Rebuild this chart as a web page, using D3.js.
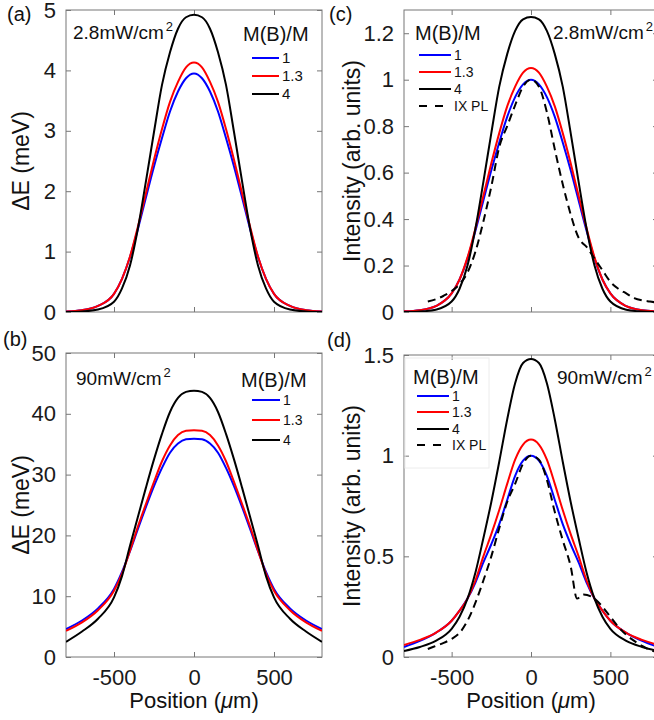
<!DOCTYPE html>
<html lang="en">
<head>
<meta charset="utf-8">
<script src="https://cdn.jsdelivr.net/npm/d3@7"></script>
<style>
    body { margin: 0; background: #fff; }
    svg { display: block; font-family: "Liberation Sans", Arial, Helvetica, sans-serif; }
    .frame { fill: none; stroke: #777; stroke-width: 1; }
    .axis path { display: none; }
    .axis line { stroke: #777; }
    .axis text { fill: #1a1a1a; font-size: 22px; font-family: "Liberation Sans", Arial, sans-serif; }
</style>
</head>
<body>
<svg id="fig" width="654" height="720"></svg>
<script>
// model curves, shared x positions (um)
const positions = [-800, -700, -600, -500, -450, -400, -350, -300, -250, -200, -150, -100, -50, 0,
    50, 100, 150, 200, 250, 300, 350, 400, 450, 500, 600, 700, 800];

// (a) 2.8 mW/cm2, Delta E (meV)
const aBlue = [0.01, 0.03, 0.10, 0.30, 0.55, 0.91, 1.38, 1.90, 2.41, 2.88, 3.32, 3.65, 3.87, 3.95,
    3.87, 3.65, 3.32, 2.88, 2.41, 1.90, 1.38, 0.91, 0.55, 0.30, 0.10, 0.03, 0.01];
const aRed = [0.01, 0.03, 0.10, 0.30, 0.55, 0.92, 1.42, 1.97, 2.52, 3.03, 3.48, 3.81, 4.05, 4.13,
    4.05, 3.81, 3.48, 3.03, 2.52, 1.97, 1.42, 0.92, 0.55, 0.30, 0.10, 0.03, 0.01];
const aBlack = [0.00, 0.008, 0.04, 0.17, 0.39, 0.77, 1.39, 2.17, 2.98, 3.76, 4.30, 4.69, 4.88, 4.92,
    4.88, 4.69, 4.30, 3.76, 2.98, 2.17, 1.39, 0.77, 0.39, 0.17, 0.04, 0.008, 0.00];

// (b) 90 mW/cm2, Delta E (meV)
const bBlue = [4.6, 6.0, 8.0, 11.2, 14.0, 17.4, 21.1, 24.7, 28.1, 31.1, 33.6, 35.1, 35.8, 35.9,
    35.8, 35.1, 33.6, 31.1, 28.1, 24.7, 21.1, 17.4, 14.0, 11.2, 8.0, 6.0, 4.6];
const bRed = [4.3, 5.7, 7.7, 10.9, 13.7, 17.5, 21.5, 25.2, 28.8, 32.2, 34.8, 36.5, 37.2, 37.3,
    37.2, 36.5, 34.8, 32.2, 28.8, 25.2, 21.5, 17.5, 13.7, 10.9, 7.7, 5.7, 4.3];
const bBlack = [2.5, 4.2, 6.3, 9.8, 13.3, 18.3, 23.1, 27.9, 32.5, 36.7, 40.3, 42.6, 43.6, 43.8,
    43.6, 42.6, 40.3, 36.7, 32.5, 27.9, 23.1, 18.3, 13.3, 9.8, 6.3, 4.2, 2.5];

// (c) 2.8 mW/cm2, intensity
const cBlue = [0.003, 0.008, 0.025, 0.08, 0.14, 0.23, 0.35, 0.48, 0.61, 0.73, 0.84, 0.925, 0.98, 1.0,
    0.98, 0.925, 0.84, 0.73, 0.61, 0.48, 0.35, 0.23, 0.14, 0.08, 0.025, 0.008, 0.003];
const cRed = [0.003, 0.008, 0.025, 0.08, 0.14, 0.235, 0.36, 0.50, 0.64, 0.77, 0.885, 0.97, 1.03, 1.05,
    1.03, 0.97, 0.885, 0.77, 0.64, 0.50, 0.36, 0.235, 0.14, 0.08, 0.025, 0.008, 0.003];
const cBlack = [0.0, 0.002, 0.01, 0.045, 0.10, 0.20, 0.36, 0.56, 0.77, 0.97, 1.11, 1.21, 1.26, 1.27,
    1.26, 1.21, 1.11, 0.97, 0.77, 0.56, 0.36, 0.20, 0.10, 0.045, 0.01, 0.002, 0.0];

// (d) 90 mW/cm2, intensity
const dBlue = [0.05, 0.08, 0.12, 0.18, 0.23, 0.29, 0.37, 0.47, 0.56, 0.66, 0.78, 0.90, 0.975, 1.0,
    0.975, 0.90, 0.78, 0.66, 0.56, 0.47, 0.37, 0.29, 0.23, 0.18, 0.12, 0.08, 0.05];
const dRed = [0.06, 0.085, 0.12, 0.18, 0.23, 0.29, 0.38, 0.50, 0.61, 0.73, 0.86, 0.98, 1.055, 1.08,
    1.055, 0.98, 0.86, 0.73, 0.61, 0.50, 0.38, 0.29, 0.23, 0.18, 0.12, 0.085, 0.06];
const dBlack = [0.03, 0.05, 0.08, 0.14, 0.20, 0.29, 0.42, 0.59, 0.77, 0.97, 1.18, 1.36, 1.46, 1.48,
    1.46, 1.36, 1.18, 0.97, 0.77, 0.59, 0.42, 0.29, 0.20, 0.14, 0.08, 0.05, 0.03];

// measured IX PL profiles
const plPosC = [-650, -600, -550, -500, -450, -400, -350, -300, -250, -200, -150, -100, -50, 0,
    50, 100, 150, 200, 250, 300, 320, 350, 400, 450, 500, 550, 600, 650, 700, 750, 800];
const plC = [0.045, 0.055, 0.07, 0.09, 0.12, 0.17, 0.26, 0.39, 0.54, 0.71, 0.80, 0.89, 0.97, 1.0,
    0.97, 0.86, 0.70, 0.55, 0.42, 0.32, 0.30, 0.28, 0.23, 0.18, 0.13, 0.10, 0.08, 0.06, 0.05, 0.045, 0.04];
const plPosD = [-650, -600, -550, -500, -450, -400, -350, -300, -250, -200, -150, -100, -50, 0,
    50, 100, 150, 200, 250, 290, 330, 380, 450, 500, 550, 600, 650, 700, 750, 800];
const plD = [0.04, 0.055, 0.07, 0.09, 0.12, 0.18, 0.27, 0.38, 0.50, 0.64, 0.77, 0.86, 0.96, 1.0,
    0.98, 0.88, 0.72, 0.58, 0.45, 0.29, 0.31, 0.30, 0.25, 0.20, 0.15, 0.11, 0.08, 0.055, 0.035, 0.025];

const xTicks = [-500, 0, 500];
const yTicksA = [0, 1, 2, 3, 4, 5];
const yTicksB = [0, 10, 20, 30, 40, 50];
const yTicksC = [0, 0.2, 0.4, 0.6, 0.8, 1, 1.2];
const yTicksD = [0, 0.5, 1, 1.5];
const ratioLabels = ['1', '1.3', '4'];
const plLabel = 'IX PL';

const svg = d3.select('#fig');
const colors = ['#0000ff', '#ff0000', '#000000'];

const panels = [
    {id: 'a', box: [66, 322, 10, 312], yMax: 5, yTicks: yTicksA, series: [aBlue, aRed, aBlack],
        yLabel: 'ΔE (meV)', yLabelX: 29, xLabels: false,
        tag: [7, 21], power: ['2.8mW/cm', 73, 39],
        legend: {titleX: 243, titleY: 41, lineX: [252, 279], rows: [58, 76, 94], size: 15}},
    {id: 'b', box: [66, 322, 353, 657], yMax: 50, yTicks: yTicksB, series: [bBlue, bRed, bBlack],
        yLabel: 'ΔE (meV)', yLabelX: 29, xLabels: true,
        tag: [3, 346], power: ['90mW/cm', 76, 385],
        legend: {titleX: 241, titleY: 387, lineX: [252, 280], rows: [400, 420, 440], size: 14}},
    {id: 'c', box: [404, 658, 10, 312], yMax: 1.3, yTicks: yTicksC, series: [cBlue, cRed, cBlack],
        pl: [plPosC, plC], yLabel: 'Intensity (arb. units)', yLabelX: 360, xLabels: false,
        tag: [329, 21], power: ['2.8mW/cm', 553, 39],
        legend: {titleX: 415, titleY: 40, lineX: [419, 451], rows: [55, 72, 89, 106], size: 14}},
    {id: 'd', box: [404, 658, 355, 657], yMax: 1.5, yTicks: yTicksD, series: [dBlue, dRed, dBlack],
        pl: [plPosD, plD], yLabel: 'Intensity (arb. units)', yLabelX: 360, xLabels: true,
        tag: [327, 347], power: ['90mW/cm', 557, 384],
        legend: {titleX: 413, titleY: 384, lineX: [417, 449], rows: [396, 412, 429, 445], size: 14, box: true}}
];

const defs = svg.append('defs');

panels.forEach(p => {
    const [left, right, top, bottom] = p.box;
    const x = d3.scaleLinear().domain([-800, 800]).range([left, right]);
    const y = d3.scaleLinear().domain([0, p.yMax]).range([bottom, top]);
    const g = svg.append('g').attr('class', 'panel-' + p.id);

    defs.append('clipPath').attr('id', 'clip-' + p.id)
        .append('rect').attr('x', left).attr('y', top)
        .attr('width', right - left).attr('height', bottom - top);

    // axes with inward ticks on all four sides
    g.append('g').attr('class', 'axis').attr('transform', `translate(0,${bottom})`)
        .call(d3.axisBottom(x).tickValues(xTicks).tickSize(-5).tickPadding(12)
            .tickFormat(p.xLabels ? d => String(d) : ''));
    g.append('g').attr('class', 'axis').attr('transform', `translate(0,${top})`)
        .call(d3.axisTop(x).tickValues(xTicks).tickSize(-5).tickFormat(''));
    g.append('g').attr('class', 'axis').attr('transform', `translate(${left},0)`)
        .call(d3.axisLeft(y).tickValues(p.yTicks).tickSize(-5).tickPadding(10)
            .tickFormat(d => String(+d.toFixed(2))));
    g.append('g').attr('class', 'axis').attr('transform', `translate(${right},0)`)
        .call(d3.axisRight(y).tickValues(p.yTicks).tickSize(-5).tickFormat(''));
    g.append('rect').attr('class', 'frame')
        .attr('x', left).attr('y', top).attr('width', right - left).attr('height', bottom - top);

    const line = d3.line().x(d => x(d[0])).y(d => y(d[1])).curve(d3.curveMonotoneX);
    const plot = g.append('g').attr('clip-path', `url(#clip-${p.id})`);
    p.series.forEach((vals, i) => {
        plot.append('path')
            .datum(positions.map((v, k) => [v, vals[k]]))
            .attr('d', line)
            .attr('fill', 'none')
            .attr('stroke', colors[i])
            .attr('stroke-width', 2);
    });
    if (p.pl) {
        plot.append('path')
            .datum(p.pl[0].map((v, k) => [v, p.pl[1][k]]))
            .attr('d', line)
            .attr('fill', 'none')
            .attr('stroke', '#000')
            .attr('stroke-width', 2)
            .attr('stroke-dasharray', '8,5');
    }

    // legend
    const lg = p.legend;
    if (lg.box) {
        g.append('rect').attr('x', 405).attr('y', 358).attr('width', 84).attr('height', 110)
            .attr('fill', 'none').attr('stroke', '#ececec');
    }
    g.append('text').attr('x', lg.titleX).attr('y', lg.titleY)
        .attr('font-size', 20).attr('fill', '#111').text('M(B)/M');
    const labels = p.pl ? ratioLabels.concat([plLabel]) : ratioLabels;
    labels.forEach((lab, i) => {
        const yy = lg.rows[i];
        g.append('line').attr('x1', lg.lineX[0]).attr('x2', lg.lineX[1])
            .attr('y1', yy).attr('y2', yy)
            .attr('stroke', i < 3 ? colors[i] : '#000').attr('stroke-width', 2)
            .attr('stroke-dasharray', i < 3 ? null : '8,8');
        g.append('text').attr('x', lg.lineX[1] + 3).attr('y', yy + lg.size * 0.36)
            .attr('font-size', lg.size).attr('fill', '#111').text(lab);
    });

    // power density note
    const pw = g.append('text').attr('x', p.power[1]).attr('y', p.power[2])
        .attr('font-size', 19).attr('fill', '#111');
    pw.append('tspan').text(p.power[0]);
    pw.append('tspan').attr('dx', 2).attr('dy', -8).attr('font-size', 13).text('2');

    // panel tag
    g.append('text').attr('x', p.tag[0]).attr('y', p.tag[1])
        .attr('font-size', 20).attr('fill', '#111').text(`(${p.id})`);

    // y label
    g.append('text')
        .attr('transform', `translate(${p.yLabelX},${(top + bottom) / 2}) rotate(-90)`)
        .attr('text-anchor', 'middle').attr('font-size', 23).attr('fill', '#111')
        .text(p.yLabel);

    // x label
    if (p.xLabels) {
        const t = g.append('text').attr('x', (left + right) / 2).attr('y', 708)
            .attr('text-anchor', 'middle').attr('font-size', 22).attr('fill', '#111');
        t.append('tspan').text('Position (');
        t.append('tspan').attr('font-style', 'italic').text('μ');
        t.append('tspan').text('m)');
    }
});
</script>
</body>
</html>
